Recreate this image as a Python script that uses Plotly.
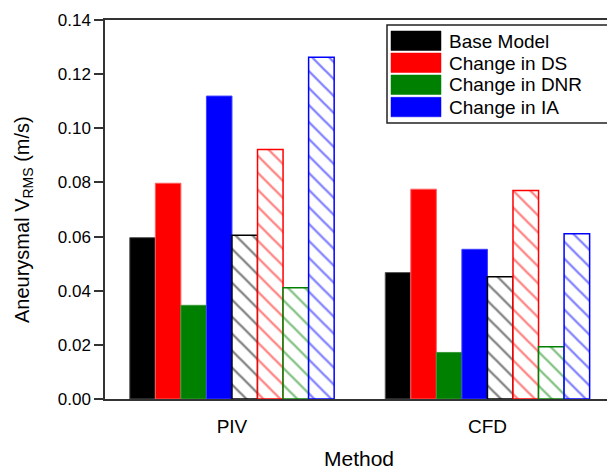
import plotly.graph_objects as go

categories = ["PIV", "CFD"]
series_names = ["Base Model", "Change in DS", "Change in DNR", "Change in IA"]
series_colors = ["#000000", "#FF0000", "#008000", "#0000FF"]
outline_colors = ["#555555", "#FF6060", "#3A9A3A", "#4040FF"]

# solid bars (first set)
base_model = [0.0596, 0.0467]
change_ds = [0.0797, 0.0775]
change_dnr = [0.0346, 0.0172]
change_ia = [0.1119, 0.0553]

# hatched bars (second set)
base_model_h = [0.0605, 0.0452]
change_ds_h = [0.0922, 0.0770]
change_dnr_h = [0.0411, 0.0193]
change_ia_h = [0.1262, 0.0610]

y_ticks = [0.00, 0.02, 0.04, 0.06, 0.08, 0.10, 0.12, 0.14]

solid = [base_model, change_ds, change_dnr, change_ia]
hatched = [base_model_h, change_ds_h, change_dnr_h, change_ia_h]

FONT = "Liberation Sans, Arial, sans-serif"
W, H = 607, 471
ML, MR, MT, MB = 105, 0, 20, 72
PW = W - ML - MR
PH = H - MT - MB

fig = go.Figure()
for name, vals, col, ocol in zip(series_names, solid, series_colors, outline_colors):
    fig.add_trace(go.Bar(
        x=categories, y=vals, name=name, showlegend=False,
        marker=dict(color=col, line=dict(color=ocol, width=1)),
    ))
for name, vals, col in zip(series_names, hatched, series_colors):
    fig.add_trace(go.Bar(
        x=categories, y=vals, name=name + " (hatched)", showlegend=False,
        marker=dict(
            color="white",
            line=dict(color=col, width=1.5),
            pattern=dict(shape="\\", fgcolor=col, bgcolor="white", size=12, solidity=0.19),
        ),
    ))


def px_x(px):
    return (px - ML) / PW


def px_y(py):
    return (H - MB - py) / PH


shapes = []
annotations = []
# legend box
shapes.append(dict(type="rect", xref="paper", yref="paper",
                   x0=px_x(387), x1=px_x(620), y0=px_y(123), y1=px_y(25),
                   line=dict(color="#222222", width=1.5), fillcolor="white", layer="above"))
tops = [31, 53, 75, 97.3]
for name, col, top in zip(series_names, series_colors, tops):
    shapes.append(dict(type="rect", xref="paper", yref="paper",
                       x0=px_x(391), x1=px_x(441), y0=px_y(top + 19.5), y1=px_y(top),
                       line=dict(color=col, width=0.5), fillcolor=col, layer="above"))
    annotations.append(dict(text=name, xref="paper", yref="paper",
                            x=px_x(447), y=px_y(top + 10), xanchor="left", yanchor="middle",
                            showarrow=False, font=dict(family=FONT, size=19, color="black")))

annotations.append(dict(text="Aneurysmal V<sub>RMS</sub> (m/s)", xref="paper", yref="paper",
                        x=px_x(23), y=px_y(220), xanchor="center", yanchor="middle",
                        textangle=-90, showarrow=False,
                        font=dict(family=FONT, size=20, color="black")))
annotations.append(dict(text="Method", xref="paper", yref="paper",
                        x=px_x(359), y=px_y(458), xanchor="center", yanchor="middle",
                        showarrow=False, font=dict(family=FONT, size=21, color="black")))

fig.update_layout(
    width=W, height=H,
    margin=dict(l=ML, r=MR, t=MT, b=MB),
    paper_bgcolor="white", plot_bgcolor="white",
    barmode="group", bargap=0.2, bargroupgap=0,
    showlegend=False,
    font=dict(family=FONT, color="black"),
    shapes=shapes, annotations=annotations,
)
fig.update_xaxes(
    type="category", range=[-0.497, 1.468],
    showline=True, linecolor="#333333", linewidth=1.5, mirror=True,
    ticks="", showgrid=False, zeroline=False,
    tickfont=dict(family=FONT, size=19, color="black"),
    ticklabelstandoff=9,
)
fig.update_yaxes(
    range=[0, 0.14], tickvals=y_ticks, ticktext=[f"{v:.2f}" for v in y_ticks],
    showline=True, linecolor="#333333", linewidth=1.5, mirror=False,
    ticks="outside", ticklen=9, tickwidth=1.5, tickcolor="#333333",
    showgrid=False, zeroline=False,
    tickfont=dict(family=FONT, size=17, color="black"),
)

fig.write_html("out.html")
